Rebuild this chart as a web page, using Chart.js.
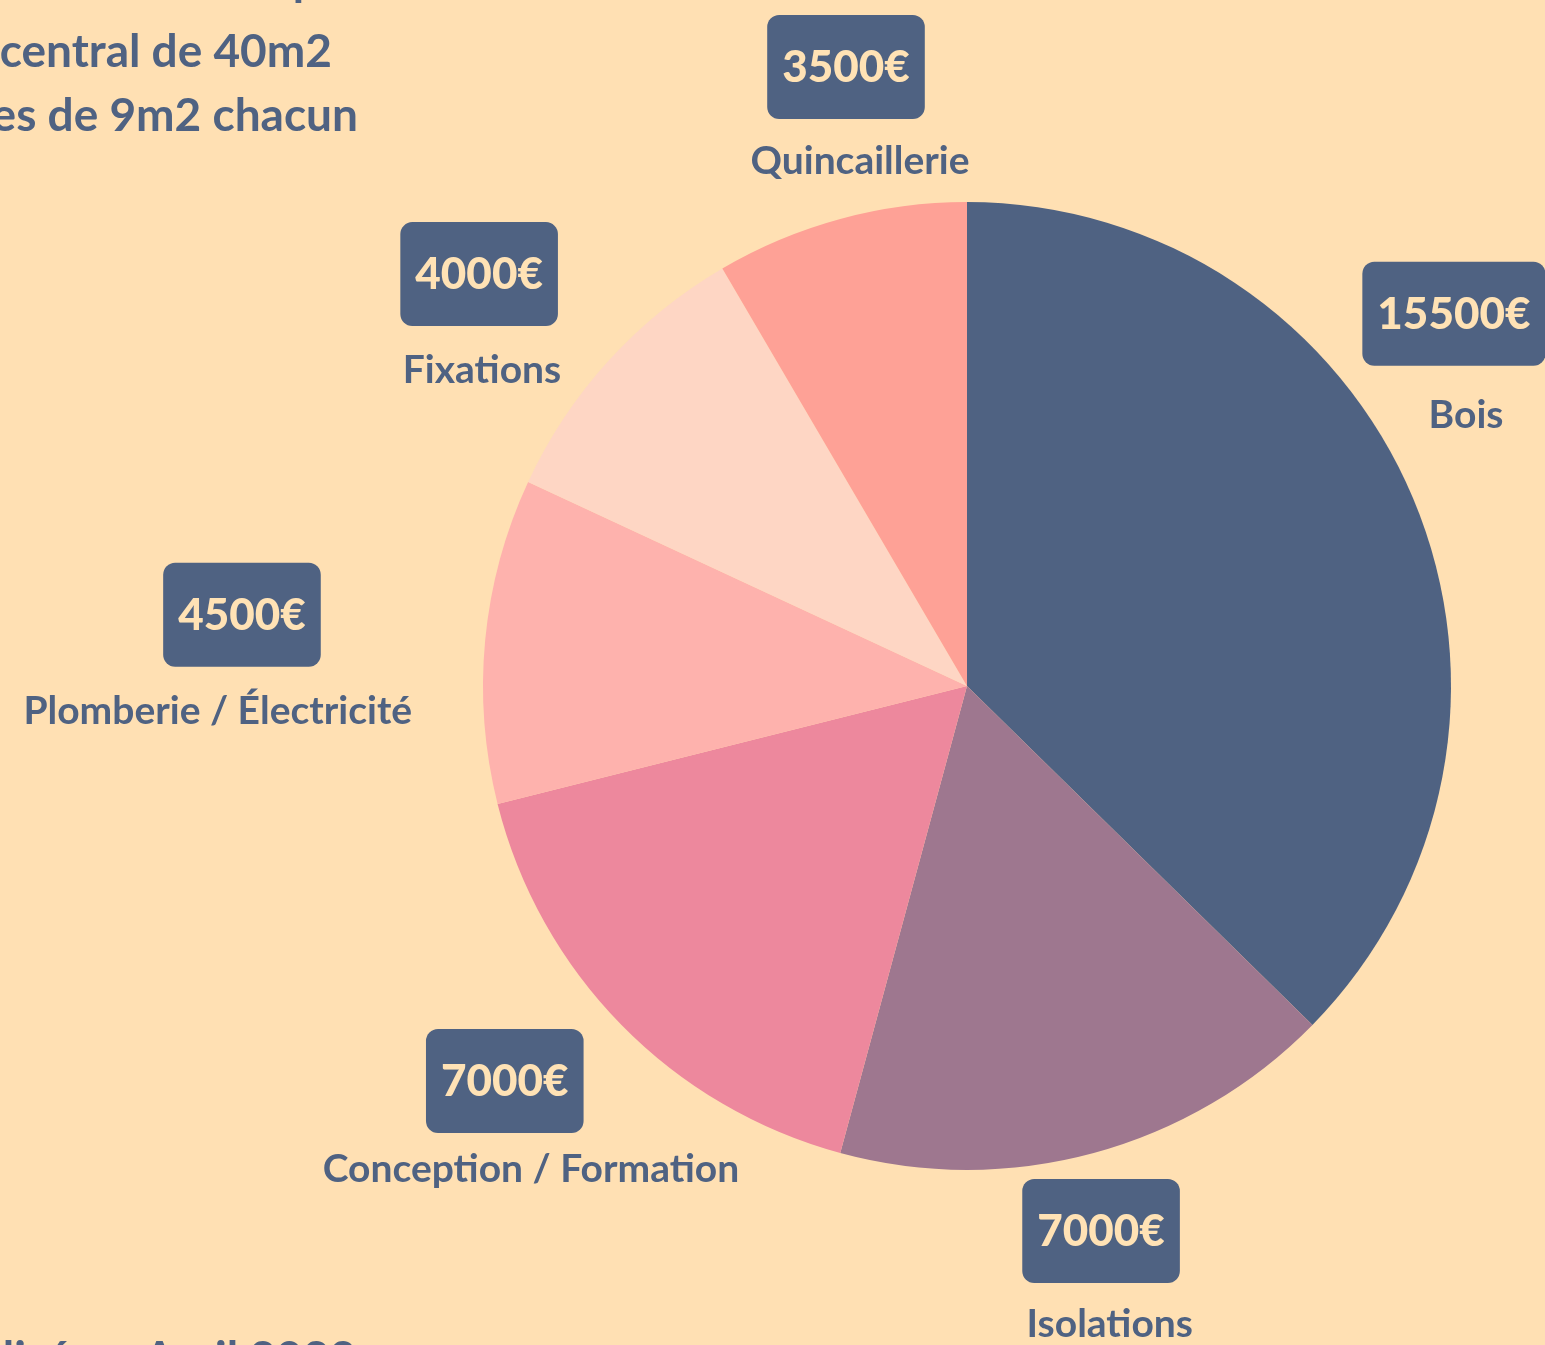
<!DOCTYPE html>
<html lang="fr">
<head>
<meta charset="utf-8">
<title>Budget</title>
<script src="https://cdn.jsdelivr.net/npm/chart.js@4/dist/chart.umd.min.js"></script>
<style>
  html, body { margin: 0; padding: 0; background: #ffe0b3; overflow: hidden; }
  #wrap { position: relative; width: 1545px; height: 1345px; }
</style>
</head>
<body>
<div id="wrap"><canvas id="chart-pie"></canvas></div>
<script>
// Chart data
const CATEGORIES = ["Bois", "Isolations", "Conception / Formation", "Plomberie / Électricité", "Fixations", "Quincaillerie"];
const AMOUNTS = [15500, 7000, 7000, 4500, 4000, 3500];
const SLICE_COLORS = ["#4f6282", "#9e778f", "#ed889d", "#feb2ad", "#fed6c4", "#fea196"];

// Partial text around the chart (cropped in the picture)
const NOTE_LINES = ["Un module de 60m2 comprenant :", "Un espace central de 40m2", "2 chambres de 9m2 chacun"];
const FOOTER = "Réalisé en Avril 2023";

// Label placement, in pie radii from the centre: [box dx, box dy, label dx, label dy]
const LABEL_POS = [
  [1.006, -0.769, 1.031, -0.560],
  [0.277, 1.126, 0.295, 1.320],
  [-0.955, 0.816, -0.901, 0.998],
  [-1.498, -0.147, -1.548, 0.052],
  [-1.008, -0.851, -1.002, -0.653],
  [-0.250, -1.279, -0.221, -1.083],
];

const INK = "#4f6282";
const CREAM = "#ffe2b5";
const FONT = "Lato, 'Noto Sans', sans-serif";

function roundRect(ctx, x, y, w, h, r) {
  ctx.beginPath();
  ctx.moveTo(x + r, y);
  ctx.arcTo(x + w, y, x + w, y + h, r);
  ctx.arcTo(x + w, y + h, x, y + h, r);
  ctx.arcTo(x, y + h, x, y, r);
  ctx.arcTo(x, y, x + w, y, r);
  ctx.closePath();
}

const pieLabels = {
  id: "pieLabels",
  beforeDraw(chart) {
    const { ctx, width, height } = chart;
    ctx.save();
    ctx.fillStyle = "#ffe0b3";
    ctx.fillRect(0, 0, width, height);
    ctx.restore();
  },
  afterDraw(chart) {
    const { ctx } = chart;
    const arcs = chart.getDatasetMeta(0).data;
    const cx = arcs[0].x;
    const cy = arcs[0].y;
    const r = arcs[0].outerRadius;
    ctx.save();
    ctx.textAlign = "center";
    ctx.textBaseline = "middle";
    arcs.forEach((arc, i) => {
      const p = LABEL_POS[i];
      const bx = cx + p[0] * r;
      const by = cy + p[1] * r;
      const txt = AMOUNTS[i] + "€";
      ctx.font = "900 44px " + FONT;
      const tw = ctx.measureText(txt).width;
      const bw = Math.max(156, tw + 30);
      roundRect(ctx, bx - bw / 2, by - 52, bw, 104, 12);
      ctx.fillStyle = INK;
      ctx.fill();
      ctx.fillStyle = CREAM;
      ctx.fillText(txt, bx, by + 1);
      ctx.font = "bold 39px " + FONT;
      ctx.fillStyle = INK;
      ctx.fillText(CATEGORIES[i], cx + p[2] * r, cy + p[3] * r);
    });

    // cropped heading text, top left
    ctx.font = "bold 46px " + FONT;
    ctx.textAlign = "right";
    ctx.textBaseline = "alphabetic";
    const rights = [475, 332, 358];
    const bases = [-5, 67, 131];
    NOTE_LINES.forEach((line, i) => ctx.fillText(line, rights[i], bases[i]));
    ctx.fillText(FOOTER, 356, 1374);
    ctx.restore();
  },
};

const DATA = {
  labels: CATEGORIES,
  datasets: [
    {
      data: AMOUNTS,
      backgroundColor: SLICE_COLORS,
      hoverBackgroundColor: SLICE_COLORS,
      borderWidth: 0,
    },
  ],
};

const CONFIG = {
  type: "pie",
  data: DATA,
  options: {
    responsive: true,
    maintainAspectRatio: false,
    animation: false,
    layout: {
      padding: { left: 483, right: 94, top: 202, bottom: 175 },
    },
    plugins: {
      legend: { display: false },
      title: { display: false },
      tooltip: { enabled: false },
    },
  },
  plugins: [pieLabels],
};

const CHART_WRAPPER = document.getElementById("chart-pie");
if (CHART_WRAPPER) {
  new Chart(CHART_WRAPPER, CONFIG);
}
</script>
</body>
</html>
